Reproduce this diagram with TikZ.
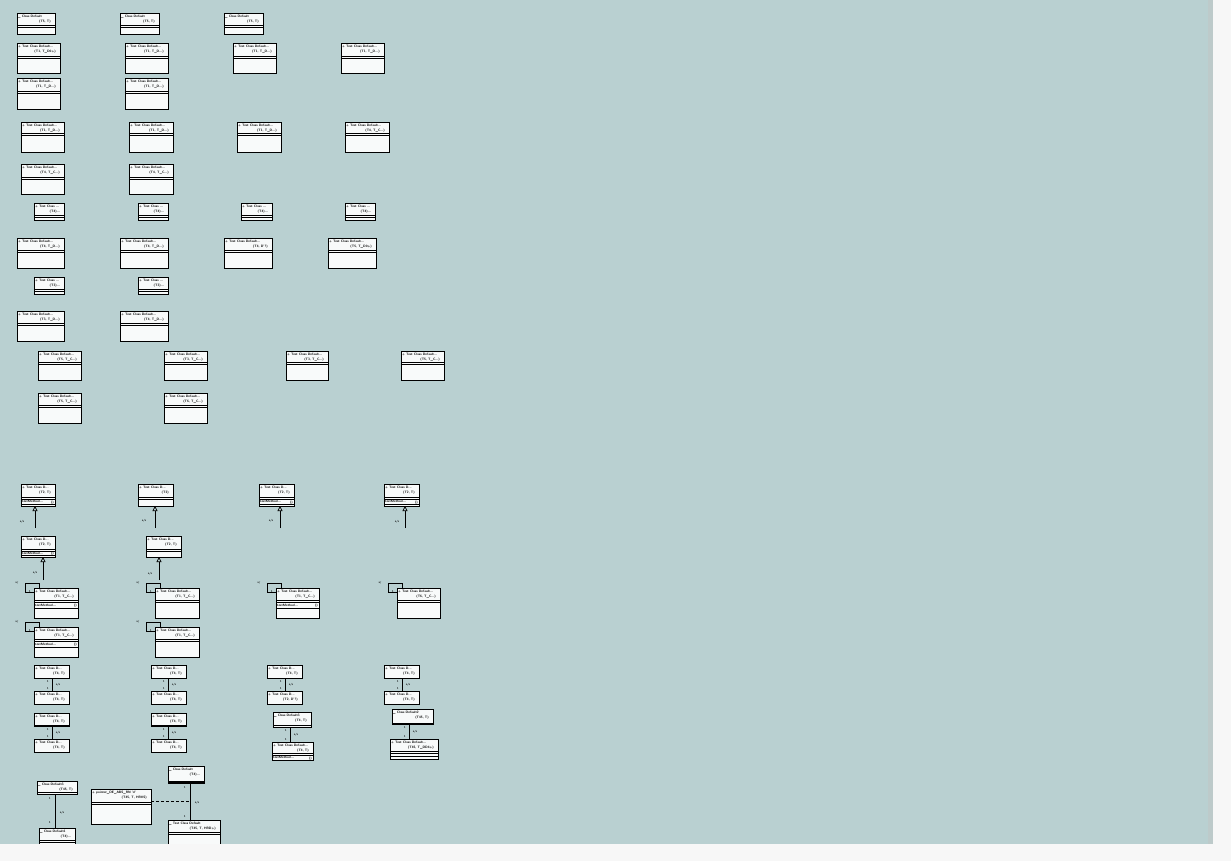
\documentclass[tikz,border=0pt]{standalone}
\usetikzlibrary{calc,arrows.meta}
\definecolor{bgc}{HTML}{B9D0D1}
\definecolor{boxfill}{HTML}{F8FAFA}
\definecolor{edgec}{HTML}{F7F7F7}
\definecolor{stripc}{HTML}{BDCACA}
\tikzset{
 cls/.style={draw=black, fill=boxfill, anchor=north west, inner sep=0pt, outer sep=0pt, line width=0.7pt},
 sepl/.style={line width=0.6pt},
 ta/.style={anchor=north west, inner sep=0pt, font=\fontsize{3.3}{3.8}\selectfont\sffamily\bfseries},
 tb/.style={anchor=north east, inner sep=0pt, font=\fontsize{3.3}{3.8}\selectfont\sffamily\bfseries},
 lab/.style={inner sep=0pt, font=\fontsize{2.8}{3.2}\selectfont\sffamily\bfseries},
 gen/.style={line width=0.7pt, -{Triangle[open, length=5pt, width=5pt]}},
 assoc/.style={line width=0.7pt},
 dep/.style={line width=0.7pt, dash pattern=on 3pt off 2pt},
}
\newcommand{\ubn}[7]{% name x y w h t1 t2 (no compartments)
 \node[cls, minimum width=#4pt, minimum height=#5pt] (#1) at (#2,#3) {};
 \node[ta] at ($(#1.north west)+(1,1.5)$) {#6};
 \node[tb] at ($(#1.north east)+(-4,6.5)$) {#7};
}
\newcommand{\ub}[8]{%
 \ubn{#1}{#2}{#3}{#4}{#5}{#7}{#8}
 \draw[sepl] ($(#1.north west)+(0,#6)$) -- ($(#1.north east)+(0,#6)$);
 \draw[sepl] ($(#1.north west)+(0,#6+2.2)$) -- ($(#1.north east)+(0,#6+2.2)$);
}
% method compartment: name, y offset of text, bottom line offset
\newcommand{\mth}[3]{%
 \node[ta] at ($(#1.north west)+(1,#2)$) {testMethod...};
 \node[tb] at ($(#1.north east)+(-1,#2)$) {()};
 \draw[sepl] ($(#1.north west)+(0,#3)$) -- ($(#1.north east)+(0,#3)$);
}
\newcommand{\loopat}[1]{%
 \draw[assoc] ($(#1.north west)+(5,0)$) -- ++(0,-5) -- ++(-14,0) -- ++(0,9) -- ++(9,0);
 \node[lab] at ($(#1.north west)+(-4,3)$) {1};
 \node[lab] at ($(#1.north west)+(-17,-5)$) {a/};
}
\begin{document}
\begin{tikzpicture}[x=1pt,y=-1pt]
\useasboundingbox (0,0) rectangle (1231,861);
\fill[edgec] (0,0) rectangle (1231,861);
\fill[bgc] (0,0) rectangle (1213,844);
\fill[stripc] (1208,0) rectangle (1213,844);

% Row 1
\ub{r1a}{17}{13}{38}{21}{12}{\_ Class Default}{(T5, T)}
\ub{r1b}{120}{13}{39}{21}{12}{\_ Class Default}{(T5, T)}
\ub{r1c}{224}{13}{39}{21}{12}{\_ Class Default}{(T5, T)}
% Row 2
\ub{r2a}{17}{43}{43}{30}{13}{+ Test Class Default...}{(T1, T\_D0+)}
\ub{r2b}{125}{43}{43}{30}{13}{+ Test Class Default...}{(T1, T\_D...)}
\ub{r2c}{233}{43}{43}{30}{13}{+ Test Class Default...}{(T1, T\_D...)}
\ub{r2d}{341}{43}{43}{30}{13}{+ Test Class Default...}{(T1, T\_D...)}
% Row 3
\ub{r3a}{17}{78}{43}{31}{13}{+ Test Class Default...}{(T1, T\_D...)}
\ub{r3b}{125}{78}{43}{31}{13}{+ Test Class Default...}{(T1, T\_D...)}
% Row 4
\ub{r4a}{21}{122}{43}{30}{11}{+ Test Class Default...}{(T1, T\_D...)}
\ub{r4b}{129}{122}{44}{30}{11}{+ Test Class Default...}{(T1, T\_D...)}
\ub{r4c}{237}{122}{44}{30}{11}{+ Test Class Default...}{(T1, T\_D...)}
\ub{r4d}{345}{122}{44}{30}{11}{+ Test Class Default...}{(T4, T\_C...)}
% Row 5
\ub{r5a}{21}{164}{43}{30}{13}{+ Test Class Default...}{(T4, T\_C...)}
\ub{r5b}{129}{164}{44}{30}{13}{+ Test Class Default...}{(T4, T\_C...)}
% Row 6
\ub{r6a}{34}{203}{30}{17}{12}{+ Test Class ...}{(T4)...}
\ub{r6b}{138}{203}{30}{17}{12}{+ Test Class ...}{(T4)...}
\ub{r6c}{241}{203}{31}{17}{12}{+ Test Class ...}{(T4)...}
\ub{r6d}{345}{203}{30}{17}{12}{+ Test Class ...}{(T4)...}
% Row 7
\ub{r7a}{17}{238}{47}{30}{12}{+ Test Class Default...}{(T4, T\_D...)}
\ub{r7b}{120}{238}{48}{30}{12}{+ Test Class Default...}{(T4, T\_D...)}
\ub{r7c}{224}{238}{48}{30}{12}{+ Test Class Default...}{(T4, D'?)}
\ub{r7d}{328}{238}{48}{30}{12}{+ Test Class Default...}{(T5, T\_D0+)}
% Row 8
\ub{r8a}{34}{277}{30}{17}{12}{+ Test Class ...}{(T3)...}
\ub{r8b}{138}{277}{30}{17}{12}{+ Test Class ...}{(T3)...}
% Row 9
\ub{r9a}{17}{311}{47}{30}{12}{+ Test Class Default...}{(T3, T\_D...)}
\ub{r9b}{120}{311}{48}{30}{12}{+ Test Class Default...}{(T4, T\_D...)}
% Row 10
\ub{r10a}{38}{351}{43}{29}{11}{+ Test Class Default...}{(T5, T\_C...)}
\ub{r10b}{164}{351}{43}{29}{11}{+ Test Class Default...}{(T3, T\_C...)}
\ub{r10c}{286}{351}{42}{29}{11}{+ Test Class Default...}{(T3, T\_C...)}
\ub{r10d}{401}{351}{43}{29}{11}{+ Test Class Default...}{(T5, T\_C...)}
% Row 11
\ub{r11a}{38}{393}{43}{30}{12}{+ Test Class Default...}{(T5, T\_C...)}
\ub{r11b}{164}{393}{43}{30}{12}{+ Test Class Default...}{(T6, T\_C...)}

% Row 12 (generalization parents)
\ub{r12a}{21}{484}{34}{22}{13}{+ Test Class D...}{(T2, T)}
\mth{r12a}{16.5}{20}
\ub{r12b}{138}{484}{35}{22}{13}{+ Test Class D...}{(T2)}
\ub{r12c}{259}{484}{35}{22}{13}{+ Test Class D...}{(T2, T)}
\mth{r12c}{16.5}{20}
\ub{r12d}{384}{484}{35}{22}{13}{+ Test Class D...}{(T2, T)}
\mth{r12d}{16.5}{20}
% Row 13
\ub{r13a}{21}{536}{34}{21}{13}{+ Test Class D...}{(T2, T)}
\mth{r13a}{16}{19.5}
\ub{r13b}{146}{536}{35}{21}{13}{+ Test Class D...}{(T2, T)}

% generalizations
\coordinate (g1) at (35,528);
\coordinate (g2) at (155,528);
\coordinate (g3) at (280,528);
\coordinate (g4) at (405,528);
\coordinate (g5) at (43,580);
\coordinate (g6) at (159,580);
\draw[gen] (g1) -- (g1 |- r12a.south);
\draw[gen] (g2) -- (g2 |- r12b.south);
\draw[gen] (g3) -- (g3 |- r12c.south);
\draw[gen] (g4) -- (g4 |- r12d.south);
\draw[gen] (g5) -- (g5 |- r13a.south);
\draw[gen] (g6) -- (g6 |- r13b.south);
\node[lab] at (22,522) {a/s};
\node[lab] at (144,521) {a/s};
\node[lab] at (271,521) {a/s};
\node[lab] at (397,522) {a/s};
\node[lab] at (35,573) {a/s};
\node[lab] at (150,574) {a/s};

% Row 14 with self loops
\ub{r14a}{34}{588}{44}{30}{12}{+ Test Class Default...}{(T1, T\_C...)}
\mth{r14a}{16}{20}
\ub{r14b}{155}{588}{44}{30}{12}{+ Test Class Default...}{(T1, T\_C...)}
\ub{r14c}{276}{588}{43}{30}{12}{+ Test Class Default...}{(T1, T\_C...)}
\mth{r14c}{16}{20}
\ub{r14d}{397}{588}{43}{30}{12}{+ Test Class Default...}{(T6, T\_C...)}
% Row 15
\ub{r15a}{34}{627}{44}{30}{12}{+ Test Class Default...}{(T1, T\_C...)}
\mth{r15a}{16}{20}
\ub{r15b}{155}{627}{44}{30}{12}{+ Test Class Default...}{(T1, T\_C...)}
\loopat{r14a}
\loopat{r14b}
\loopat{r14c}
\loopat{r14d}
\loopat{r15a}
\loopat{r15b}

% Row 16 associations
\ubn{a1}{34}{665}{35}{13}{+ Test Class D...}{(T4, T)}
\ubn{b1}{34}{691}{35}{13}{+ Test Class D...}{(T4, T)}
\ubn{a2}{151}{665}{35}{13}{+ Test Class D...}{(T4, T)}
\ubn{b2}{151}{691}{35}{13}{+ Test Class D...}{(T4, T)}
\ubn{a3}{267}{665}{35}{13}{+ Test Class D...}{(T4, T)}
\ubn{b3}{267}{691}{35}{13}{+ Test Class D...}{(T2, D'?)}
\ubn{a4}{384}{665}{35}{13}{+ Test Class D...}{(T4, T)}
\ubn{b4}{384}{691}{35}{13}{+ Test Class D...}{(T4, T)}
% Row 17
\ubn{c1}{34}{713}{35}{13}{+ Test Class D...}{(T4, T)}
\draw[line width=1.2pt] (c1.south west) -- (c1.south east);
\ubn{d1}{34}{739}{35}{13}{+ Test Class D...}{(T4, T)}
\ubn{c2}{151}{713}{35}{13}{+ Test Class D...}{(T4, T)}
\draw[line width=1.2pt] (c2.south west) -- (c2.south east);
\ubn{d2}{151}{739}{35}{13}{+ Test Class D...}{(T4, T)}
\ub{c3}{273}{712}{38}{15}{12.8}{\_ Class Default3}{(T4, T)}
\ub{d3}{272}{742}{41}{18}{11}{+ Test Class Default...}{(T4, T)}
\node[ta] at ($(d3.north west)+(1,14.5)$) {testMethod...};
\node[tb] at ($(d3.north east)+(-1,14.5)$) {()};
\ubn{c4}{392}{709}{41}{15}{\_ Class Default2}{(T45, T)}
\draw[line width=1.4pt] ($(c4.south west)+(0,-0.7)$) -- ($(c4.south east)+(0,-0.7)$);
\ub{d4}{390}{739}{48}{20}{12}{+ Test Class Default...}{(T45, T\_DD4+)}
\draw[sepl] ($(d4.north west)+(0,17)$) -- ($(d4.north east)+(0,17)$);

\foreach \a/\b/\x in {a1/b1/52, a2/b2/168, a3/b3/285, a4/b4/402, c1/d1/52, c2/d2/168, c3/d3/290, c4/d4/409}{
  \draw[assoc] (\x,0 |- \a.south) -- (\x,0 |- \b.north);
  \node[lab] at ($(\x,0 |- \a.south)+(-4,3)$) {1};
  \node[lab] at ($(\x,0 |- \b.north)+(-4,-3)$) {1};
  \node[lab] at ($(\x,0 |- \a.south)!0.5!(\x,0 |- \b.north)+(6,0)$) {a/s};
}

% Bottom group
\ub{l1}{37}{781}{40}{13}{11}{\_ Class Default3}{(T45, T)}
\ub{l2}{39}{828}{36}{22}{12}{\_ Class Default1}{(T4)...}
\ub{m}{91}{789}{60}{35}{13}{+ pointer\_DE\_ABS\_RN 'd'}{(T45, T, HRVS)}
\ubn{q1}{168}{766}{36}{17}{\_ Class Default}{(T4)...}
\draw[line width=1.4pt] ($(q1.south west)+(0,-1)$) -- ($(q1.south east)+(0,-1)$);
\ub{q2}{168}{820}{52}{30}{12}{\_ Test Class Default}{(T45, T, HRD+)}
\draw[assoc] (55,0 |- l1.south) -- (55,0 |- l2.north);
\node[lab] at (50,798) {1};
\node[lab] at (50,822) {1};
\node[lab] at (62,813) {a/s};
\draw[assoc] (190,0 |- q1.south) -- (190,0 |- q2.north);
\node[lab] at (185,787) {1};
\node[lab] at (185,816) {1};
\node[lab] at (197,803) {a/s};
\draw[dep] (m.east |- 0,801) -- (190,801);

% bottom page strip
\fill[edgec] (0,844) rectangle (1231,861);
\end{tikzpicture}
\end{document}
